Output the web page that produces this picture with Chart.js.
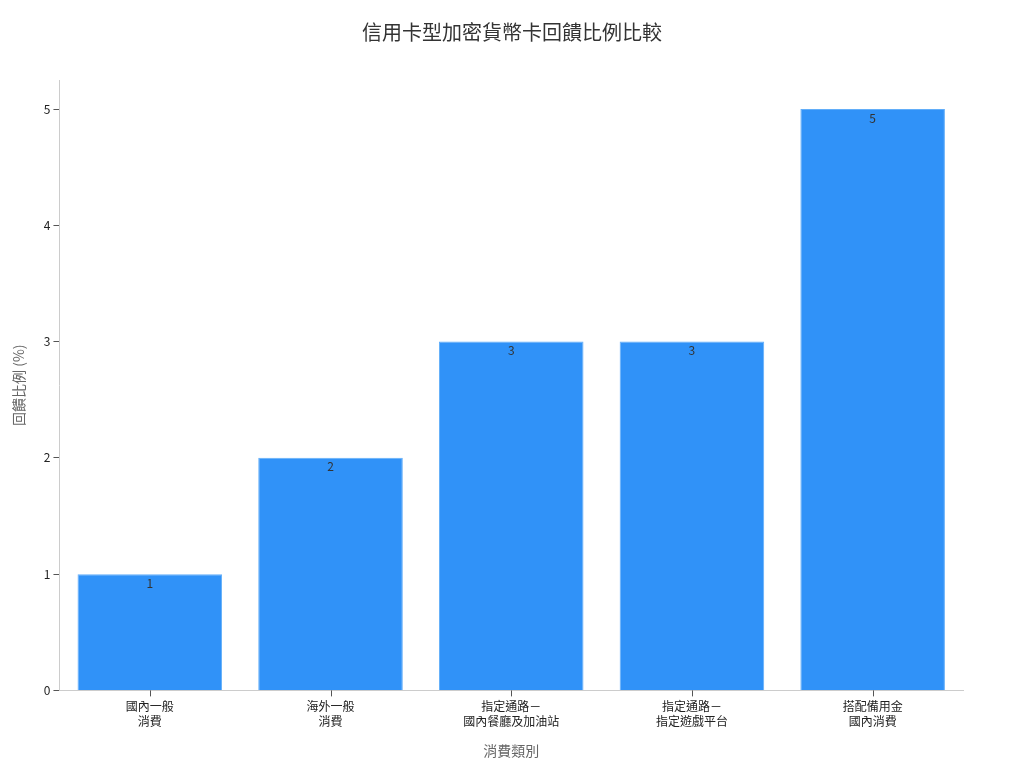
<!DOCTYPE html>
<html>
<head>
<meta charset="utf-8">
<script src="https://cdn.jsdelivr.net/npm/chart.js@4"></script>
<style>
  html, body { margin: 0; padding: 0; background: #fff; }
  #wrap { width: 1024px; height: 768px; }
</style>
</head>
<body>
<div id="wrap"><canvas id="rewardChart"></canvas></div>
<script>
const chartTitle = '信用卡型加密貨幣卡回饋比例比較';
const categories = [
    ['國內一般', '消費'],
    ['海外一般', '消費'],
    ['指定通路－', '國內餐廳及加油站'],
    ['指定通路－', '指定遊戲平台'],
    ['搭配備用金', '國內消費']
];
const rewardRates = [1, 2, 3, 3, 5];
const yTicks = [0, 1, 2, 3, 4, 5];

const fontFamily = '"Noto Sans CJK TC", "Noto Sans", sans-serif';

// 在長條頂端內側寫數值
const barLabels = {
    id: 'barLabels',
    afterDatasetsDraw(chart) {
        const c = chart.ctx;
        const meta = chart.getDatasetMeta(0);
        c.save();
        c.font = '12px ' + fontFamily;
        c.fillStyle = '#333';
        c.textAlign = 'center';
        c.textBaseline = 'top';
        meta.data.forEach((bar, i) => {
            c.fillText(String(rewardRates[i]), bar.x, bar.y + 3);
        });
        c.restore();
    }
};

// x 軸刻度線畫在類別中央
const xTickMarks = {
    id: 'xTickMarks',
    afterDraw(chart) {
        const c = chart.ctx;
        const xs = chart.scales.x;
        c.save();
        c.strokeStyle = '#555';
        c.lineWidth = 1;
        c.beginPath();
        categories.forEach((_, i) => {
            const px = Math.round(xs.getPixelForTick(i)) + 0.5;
            c.moveTo(px, xs.top);
            c.lineTo(px, xs.top + 6);
        });
        c.stroke();
        c.restore();
    }
};

// 標題置中於整個畫布
const pageTitle = {
    id: 'pageTitle',
    afterDraw(chart) {
        const c = chart.ctx;
        c.save();
        c.font = '20px ' + fontFamily;
        c.fillStyle = '#333';
        c.textAlign = 'center';
        c.textBaseline = 'middle';
        c.fillText(chartTitle, chart.width / 2, 32);
        c.restore();
    }
};

const ctx = document.getElementById('rewardChart').getContext('2d');

new Chart(ctx, {
    type: 'bar',
    data: {
        labels: categories,
        datasets: [{
            label: '回饋比例 (%)',
            data: rewardRates,
            backgroundColor: '#3092F8',
            borderColor: '#62AEF9',
            borderWidth: 1,
            barPercentage: 0.8,
            categoryPercentage: 1.0
        }]
    },
    options: {
        responsive: true,
        maintainAspectRatio: false,
        animation: false,
        layout: { padding: { left: 6, right: 61, top: 80, bottom: 5 } },
        plugins: {
            legend: { display: false },
            tooltip: { enabled: false },
            title: { display: false }
        },
        scales: {
            x: {
                grid: { display: true, drawOnChartArea: false, color: 'rgba(0,0,0,0)', tickLength: 6 },
                border: { color: '#ccc' },
                ticks: {
                    color: '#222',
                    font: { family: fontFamily, size: 12 },
                    padding: 3,
                    maxRotation: 0
                },
                title: {
                    display: true,
                    text: '消費類別',
                    color: '#666',
                    font: { family: fontFamily, size: 14 },
                    padding: { top: 11 }
                }
            },
            y: {
                min: 0,
                max: 5.25,
                afterBuildTicks(scale) {
                    scale.ticks = yTicks.map(v => ({ value: v }));
                },
                grid: { display: true, drawOnChartArea: false, color: '#555', tickLength: 6 },
                border: { color: '#ccc' },
                ticks: {
                    color: '#222',
                    font: { family: fontFamily, size: 12 },
                    padding: 3
                },
                title: {
                    display: true,
                    text: '回饋比例 (%)',
                    color: '#666',
                    font: { family: fontFamily, size: 14 },
                    padding: { bottom: 14 }
                }
            }
        }
    },
    plugins: [barLabels, xTickMarks, pageTitle]
});
</script>
</body>
</html>
